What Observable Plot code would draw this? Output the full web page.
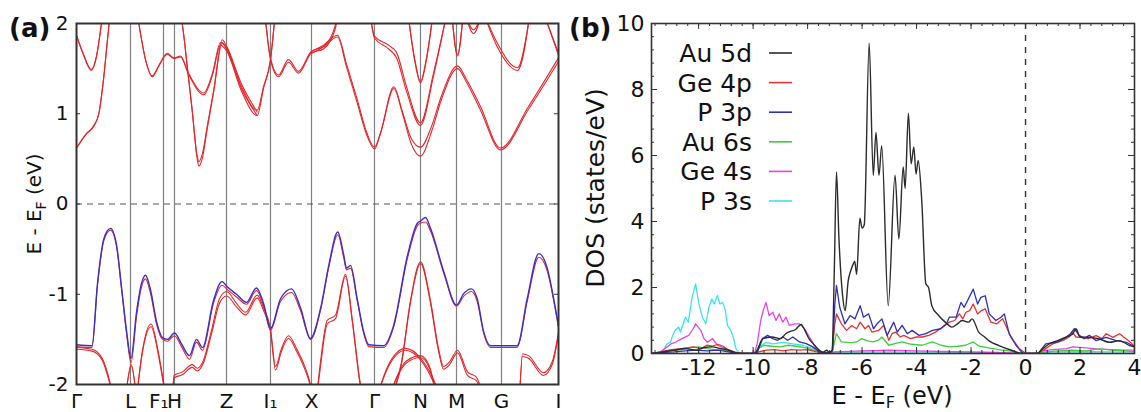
<!DOCTYPE html>
<html><head><meta charset="utf-8">
<script src="https://cdn.jsdelivr.net/npm/d3@7"></script>
<script src="https://cdn.jsdelivr.net/npm/@observablehq/plot@0.6"></script>
<style>
body{margin:0;background:#fff;font-family:"DejaVu Sans";}
#wrap{position:relative;width:1141px;height:412px;overflow:hidden;}
#wrap svg{position:absolute;top:0;}
</style>
</head><body><div id="wrap"></div>
<script>
// ---------- Panel (a): band structure ----------
const kTicks = [0, 0.54, 0.87, 0.98, 1.50, 1.94, 2.35, 2.98, 3.44, 3.80, 4.25, 4.82];
const kLabels = ["Γ", "L", "F₁", "H", "Z", "I₁", "X", "Γ", "N", "M", "G", "I"];
const eTicks = [-2, -1, 0, 1, 2];

// top valence band: [k, E (blue), E (red partner)]
const vbTop = [
[0,-1.56,-1.58],[0.155,-1.57,-1.59],[0.21,-0.88,-0.9],[0.275,-0.38,-0.4],[0.34,-0.27,-0.29],[0.40,-0.45,-0.47],[0.45,-0.92,-0.94],[0.50,-1.4,-1.43],[0.545,-1.71,-1.76],[0.60,-1.2,-1.25],[0.65,-0.88,-0.92],[0.69,-0.79,-0.83],[0.74,-0.95,-0.99],[0.80,-1.3,-1.33],[0.86,-1.48,-1.5],[0.91,-1.5,-1.52],[0.98,-1.43,-1.46],[1.05,-1.55,-1.58],[1.13,-1.68,-1.72],[1.2,-1.5,-1.53],[1.26,-1.59,-1.62],[1.37,-1.07,-1.1],[1.455,-0.86,-0.9],[1.51,-0.92,-0.95],[1.6,-1.0,-1.03],[1.70,-1.09,-1.11],[1.80,-0.93,-0.96],[1.87,-1.1,-1.12],[1.94,-1.38,-1.4],[2.04,-1.05,-1.08],[2.15,-0.94,-0.98],[2.24,-1.15,-1.18],[2.34,-1.49,-1.5],[2.44,-1.16,-1.18],[2.523,-0.68,-0.7],[2.613,-0.31,-0.34],[2.673,-0.57,-0.6],[2.70,-0.71,-0.73],[2.74,-0.68,-0.71],[2.807,-1.05,-1.07],[2.873,-1.42,-1.44],[2.923,-1.56,-1.58],[3.07,-1.57,-1.59],[3.17,-1.35,-1.37],[3.31,-0.57,-0.6],[3.41,-0.21,-0.24],[3.44,-0.19,-0.21],[3.49,-0.15,-0.2],[3.54,-0.27,-0.3],[3.673,-0.75,-0.77],[3.80,-1.12,-1.13],[3.873,-0.99,-1.02],[3.95,-0.94,-0.97],[4.007,-1.05,-1.08],[4.073,-1.42,-1.44],[4.14,-1.57,-1.59],[4.407,-1.57,-1.59],[4.507,-1.05,-1.08],[4.623,-0.55,-0.59],[4.707,-0.71,-0.74],[4.79,-1.16,-1.18],[4.82,-1.35,-1.37]
];

// lower valence bands (red pairs): [k, E1, E2]
const vbLower = [
 [[0.0,-1.59,-1.61],[0.155,-1.61,-1.63],[0.257,-1.71,-1.73],[0.34,-2.0,-2.02],[0.37,-2.15,-2.15]],
 [[0.49,-2.15,-2.15],[0.547,-1.78,-1.8],[0.6,-2.15,-2.15]],
 [[0.6,-2.15,-2.15],[0.66,-1.62,-1.64],[0.745,-1.33,-1.36],[0.82,-1.65,-1.68],[0.873,-1.99,-2.01],[0.9,-2.15,-2.15]],
 [[0.96,-2.15,-2.15],[0.975,-1.9,-1.93],[1.06,-1.86,-1.89],[1.157,-1.78,-1.81],[1.207,-1.82,-1.85],[1.27,-1.73,-1.76],[1.35,-1.4,-1.44],[1.43,-1.05,-1.1],[1.5,-0.97,-1.02],[1.6,-1.1,-1.14],[1.69,-1.2,-1.23],[1.807,-1.01,-1.04],[1.87,-1.15,-1.18],[1.94,-1.38,-1.41],[1.99,-1.8,-1.84],[2.05,-1.6,-1.63],[2.12,-1.46,-1.49],[2.2,-1.6,-1.63],[2.34,-2.0,-2.02],[2.37,-2.15,-2.15]],
 [[2.40,-2.15,-2.15],[2.44,-1.75,-1.8],[2.507,-1.29,-1.33],[2.59,-1.23,-1.27],[2.69,-0.78,-0.8],[2.76,-1.3,-1.32],[2.84,-2.0,-2.02],[2.87,-2.15,-2.15]],
 [[3.15,-2.15,-2.15],[3.25,-1.75,-1.77],[3.34,-1.07,-1.09],[3.44,-0.64,-0.66],[3.54,-1.07,-1.1],[3.62,-1.6,-1.63],[3.67,-1.8,-1.83],[3.73,-1.75,-1.78],[3.81,-1.62,-1.65],[3.91,-1.86,-1.9],[4.0,-1.92,-1.96],[4.07,-2.15,-2.15]],
 [[3.0,-2.15,-2.15],[3.12,-1.78,-1.8],[3.29,-1.6,-1.62],[3.45,-1.72,-1.74],[3.61,-2.05,-2.07],[3.64,-2.15,-2.15]],
 [[3.12,-2.15,-2.15],[3.3,-1.74,-1.76],[3.44,-1.68,-1.7],[3.53,-1.8,-1.82],[3.6,-2.15,-2.15]],
 [[4.43,-2.15,-2.15],[4.46,-1.66,-1.69],[4.52,-1.68,-1.71],[4.67,-1.87,-1.9],[4.76,-1.74,-1.77],[4.82,-1.42,-1.45]]
];

// conduction bands (red pairs): [k, E1, E2]
const cbBands = [
 [[0,0.62,0.62],[0.1,0.78,0.78],[0.173,0.86,0.87],[0.223,1.0,1.0],[0.273,1.41,1.41],[0.307,1.79,1.79],[0.34,2.15,2.15]],
 [[0,1.87,1.86],[0.07,1.66,1.65],[0.147,1.49,1.48],[0.2,1.64,1.63],[0.25,2.0,2.0],[0.27,2.15,2.15]],
 [[0.60,2.15,2.15],[0.623,2.0,2.0],[0.69,1.6,1.6],[0.757,1.42,1.41],[0.83,1.55,1.54],[0.907,1.67,1.66],[0.973,1.62,1.61],[1.04,1.64,1.63],[1.12,1.45,1.44],[1.273,1.23,1.21],[1.36,1.45,1.43],[1.44,1.79,1.76],[1.5,1.73,1.7],[1.65,1.3,1.25],[1.807,1.04,0.98],[1.87,1.3,1.28],[1.94,1.6,1.6],[1.99,2.15,2.15]],
 [[1.03,2.15,2.15],[1.057,2.0,2.0],[1.107,1.53,1.53],[1.157,1.04,1.03],[1.207,0.53,0.5],[1.223,0.47,0.42],[1.257,0.55,0.5],[1.307,0.86,0.83],[1.373,1.27,1.25],[1.457,1.82,1.79],[1.5,1.75,1.72],[1.65,1.33,1.28],[1.807,1.02,0.98]],
 [[1.88,2.15,2.15],[1.94,1.62,1.6],[2.02,1.43,1.41],[2.12,1.6,1.57],[2.22,1.47,1.45],[2.347,1.69,1.67],[2.473,1.75,1.72],[2.59,1.99,1.95],[2.62,2.15,2.15]],
 [[2.347,1.69,1.67],[2.47,1.76,1.74],[2.61,1.87,1.85],[2.7,1.55,1.52],[2.807,1.16,1.12],[2.9,0.8,0.77],[2.98,0.63,0.61],[3.04,0.79,0.78],[3.173,1.30,1.28],[3.26,1.02,1.0],[3.35,0.72,0.66],[3.44,0.63,0.53],[3.55,0.86,0.8],[3.65,1.2,1.16],[3.81,1.53,1.5],[3.9,1.38,1.35],[4.04,1.08,1.04],[4.24,0.62,0.6],[4.52,1.08,1.05],[4.82,1.62,1.58]],
 [[2.93,2.15,2.15],[2.98,1.86,1.84],[3.12,1.76,1.72],[3.2,1.68,1.62],[3.3,1.3,1.25],[3.44,0.9,0.87],[3.57,1.45,1.42],[3.71,2.15,2.15]],
 [[3.31,2.15,2.15],[3.38,1.62,1.6],[3.44,1.36,1.34],[3.50,1.62,1.6],[3.57,2.15,2.15]],
 [[3.75,2.15,2.15],[3.81,1.66,1.64],[3.87,2.15,2.15]],
 [[3.88,2.15,2.15],[3.97,1.93,1.89],[4.06,2.15,2.15]],
 [[4.06,2.15,2.15],[4.2,1.8,1.76],[4.41,1.51,1.48],[4.54,2.15,2.15]],
 [[4.66,2.15,2.15],[4.82,1.67,1.65]]
];

// ---------- Panel (b): DOS ----------
const dosNames = ["Au 5d", "Ge 4p", "P 3p", "Au 6s", "Ge 4s", "P 3s"];
const dosColors = ["#2b2b2b", "#e53232", "#3030b4", "#3fce3f", "#e446e4", "#3fe2ea"];
const dosXTicks = [-12, -10, -8, -6, -4, -2, 0, 2, 4];
const dosYTicks = [0, 2, 4, 6, 8, 10];

const au5d = [[-13.7,0],[-13.3,0.05],[-12.9,0.1],[-12.5,0.15],[-12.1,0.1],[-11.8,0.18],[-11.5,0.2],[-11.2,0.15],[-10.9,0.1],[-10.6,0.02],[-10.3,0],[-9.95,0],[-9.85,0.1],[-9.65,0.45],[-9.3,0.5],[-9.0,0.45],[-8.8,0.6],[-8.6,0.68],[-8.45,0.72],[-8.36,0.8],[-8.24,0.88],[-8.1,0.7],[-7.95,0.45],[-7.8,0.3],[-7.6,0.12],[-7.44,0.04],[-7.3,0.1],[-7.2,0.03],[-7.1,0.1],[-7.02,2.5],[-6.94,5.5],[-6.85,3.5],[-6.72,1.8],[-6.62,1.3],[-6.51,2.2],[-6.42,2.5],[-6.33,2.7],[-6.27,2.8],[-6.2,2.4],[-6.08,4.1],[-6.0,3.8],[-5.92,3.9],[-5.74,9.4],[-5.59,5.4],[-5.49,6.7],[-5.38,5.4],[-5.28,6.3],[-5.04,1.45],[-4.79,5.4],[-4.65,3.47],[-4.49,5.65],[-4.42,5.0],[-4.30,7.28],[-4.20,5.75],[-4.10,6.26],[-4.02,5.44],[-3.94,5.85],[-3.81,4.64],[-3.66,2.11],[-3.56,2.0],[-3.44,1.45],[-3.19,1.15],[-2.95,0.95],[-2.7,0.8],[-2.5,0.9],[-2.33,1.0],[-2.09,0.95],[-1.96,1.05],[-1.72,0.65],[-1.5,0.5],[-1.35,0.39],[-0.98,0.24],[-0.49,0.09],[-0.12,0],[0.45,0],[0.5,0.04],[0.87,0.29],[1.2,0.4],[1.5,0.5],[1.73,0.59],[1.85,0.75],[2.0,0.5],[2.34,0.49],[2.71,0.44],[3.08,0.34],[3.45,0.39],[3.82,0.24],[4.0,0.2]];
const ge4p = [[-13.7,0],[-13.4,0.05],[-13.0,0.12],[-12.6,0.15],[-12.2,0.2],[-11.9,0.15],[-11.7,0.25],[-11.5,0.22],[-11.3,0.28],[-11.1,0.22],[-10.9,0.1],[-10.7,0.04],[-10.4,0],[-9.95,0],[-9.8,0.05],[-9.5,0.1],[-9.2,0.12],[-8.9,0.08],[-8.6,0.12],[-8.3,0.1],[-8.0,0.12],[-7.7,0.06],[-7.4,0.02],[-7.1,0.05],[-7.0,0.9],[-6.94,1.2],[-6.76,0.9],[-6.57,0.7],[-6.38,0.85],[-6.2,0.75],[-6.07,0.95],[-5.89,0.75],[-5.76,0.85],[-5.64,0.65],[-5.39,0.7],[-5.21,0.85],[-5.02,0.4],[-4.9,0.6],[-4.77,0.65],[-4.6,0.5],[-4.47,0.55],[-4.22,0.45],[-4.0,0.5],[-3.79,0.5],[-3.55,0.55],[-3.3,0.65],[-3.05,0.8],[-2.8,0.95],[-2.6,1.0],[-2.43,1.2],[-2.3,1.05],[-2.19,1.25],[-2.05,1.3],[-1.92,1.5],[-1.76,1.2],[-1.62,1.3],[-1.48,1.35],[-1.27,0.95],[-1.05,0.9],[-0.84,1.05],[-0.7,0.8],[-0.54,0.5],[-0.23,0.15],[0,0],[0.45,0],[0.62,0.08],[0.99,0.29],[1.36,0.39],[1.6,0.5],[1.73,0.64],[1.85,0.5],[2.09,0.49],[2.3,0.45],[2.59,0.54],[2.8,0.45],[2.96,0.6],[3.21,0.49],[3.45,0.6],[3.6,0.5],[3.70,0.44],[3.9,0.3],[4.0,0.2]];
const p3p = [[-13.7,0],[-13.3,0.03],[-12.9,0.05],[-12.5,0.08],[-12.1,0.1],[-11.7,0.08],[-11.3,0.1],[-10.9,0.05],[-10.6,0],[-9.95,0],[-9.84,0.05],[-9.65,0.45],[-9.47,0.55],[-9.28,0.45],[-9.1,0.4],[-8.91,0.5],[-8.73,0.4],[-8.54,0.5],[-8.3,0.35],[-8.05,0.3],[-7.81,0.2],[-7.56,0.05],[-7.2,0.02],[-7.08,0.1],[-7.0,1.5],[-6.94,2.06],[-6.82,1.4],[-6.63,0.9],[-6.44,1.15],[-6.26,1.05],[-6.07,1.45],[-5.95,1.1],[-5.76,1.2],[-5.58,0.75],[-5.45,0.9],[-5.27,1.05],[-5.08,0.55],[-4.84,0.95],[-4.71,0.65],[-4.53,0.85],[-4.34,0.6],[-4.16,0.7],[-3.91,0.55],[-3.66,0.6],[-3.42,0.7],[-3.11,0.75],[-2.9,0.9],[-2.80,1.1],[-2.55,1.1],[-2.37,1.55],[-2.25,1.4],[-2.07,1.7],[-1.92,1.95],[-1.76,1.5],[-1.64,1.7],[-1.48,1.75],[-1.33,1.2],[-1.09,1.0],[-0.9,1.1],[-0.78,1.2],[-0.6,0.6],[-0.35,0.25],[-0.1,0],[0.45,0],[0.50,0.04],[0.74,0.29],[1.11,0.34],[1.3,0.4],[1.48,0.49],[1.65,0.6],[1.79,0.75],[1.97,0.55],[2.15,0.45],[2.34,0.55],[2.59,0.39],[2.96,0.49],[3.33,0.39],[3.70,0.34],[4.0,0.2]];
const au6s = [[-13.7,0],[-13.3,0.05],[-13.0,0.1],[-12.6,0.12],[-12.3,0.18],[-12.0,0.2],[-11.7,0.15],[-11.4,0.12],[-11.1,0.1],[-10.8,0.05],[-10.5,0],[-9.95,0],[-9.8,0.15],[-9.6,0.25],[-9.3,0.22],[-9.0,0.2],[-8.7,0.25],[-8.4,0.22],[-8.1,0.18],[-7.8,0.1],[-7.5,0.03],[-7.1,0.03],[-7.0,0.4],[-6.94,0.6],[-6.76,0.35],[-6.4,0.33],[-6.2,0.35],[-6.01,0.45],[-5.8,0.38],[-5.6,0.35],[-5.4,0.4],[-5.27,0.5],[-5.02,0.25],[-4.8,0.3],[-4.53,0.35],[-4.2,0.28],[-3.79,0.25],[-3.42,0.35],[-3.1,0.25],[-2.8,0.2],[-2.5,0.22],[-2.2,0.25],[-1.92,0.35],[-1.7,0.22],[-1.4,0.18],[-1.0,0.12],[-0.6,0.08],[-0.2,0.02],[0,0],[0.45,0],[0.7,0.05],[1.2,0.08],[1.7,0.1],[2.2,0.08],[2.7,0.14],[3.2,0.1],[3.7,0.08],[4.0,0.05]];
const ge4s = [[-13.7,0],[-13.4,0.05],[-13.23,0.15],[-13.0,0.3],[-12.86,0.34],[-12.61,0.45],[-12.36,0.55],[-12.2,0.75],[-12.11,0.9],[-11.92,0.7],[-11.8,0.45],[-11.68,0.34],[-11.49,0.45],[-11.31,0.25],[-11.0,0.15],[-10.63,0.03],[-10.4,0],[-9.95,0],[-9.85,0.3],[-9.72,1.0],[-9.63,1.3],[-9.53,1.55],[-9.41,1.15],[-9.28,1.25],[-9.16,1.0],[-9.04,1.2],[-8.91,0.95],[-8.79,1.1],[-8.67,0.85],[-8.48,0.9],[-8.30,0.9],[-8.11,0.75],[-7.93,0.5],[-7.75,0.25],[-7.56,0.08],[-7.4,0],[-7.0,0.05],[-6.0,0.08],[-5.0,0.1],[-4.0,0.08],[-3.0,0.06],[-2.0,0.05],[-1.0,0.03],[0,0],[0.45,0],[0.6,0.08],[1.0,0.12],[1.5,0.15],[1.73,0.2],[2.1,0.18],[2.6,0.14],[3.1,0.12],[3.6,0.1],[4.0,0.1]];
const p3s = [[-13.7,0],[-13.45,0],[-13.34,0.04],[-13.16,0.29],[-13.04,0.34],[-12.95,0.55],[-12.86,0.7],[-12.73,0.8],[-12.67,0.65],[-12.48,1.1],[-12.38,0.95],[-12.24,1.7],[-12.11,2.11],[-11.99,1.5],[-11.86,1.1],[-11.74,0.9],[-11.62,1.4],[-11.52,1.65],[-11.43,1.5],[-11.31,1.76],[-11.22,1.5],[-11.12,1.55],[-11.03,1.35],[-10.94,0.85],[-10.82,0.7],[-10.73,0.5],[-10.63,0.15],[-10.5,0],[-9.95,0],[-9.78,0.2],[-9.53,0.34],[-9.28,0.29],[-8.91,0.34],[-8.54,0.29],[-8.17,0.25],[-7.81,0.15],[-7.56,0.05],[-7.4,0],[-7.0,0.04],[-5.0,0.05],[-3.0,0.04],[-1.0,0.02],[0,0],[0.45,0],[1.0,0.05],[2.0,0.06],[3.0,0.05],[4.0,0.05]];
const dosSeries = [au5d, ge4p, p3p, au6s, ge4s, p3s];

// ---------- build ----------
const FONT = "DejaVu Sans";
function pairRows(bands, prefix) {
  const out = [];
  bands.forEach((b, i) => b.forEach(([k, e1, e2]) => {
    out.push({id: prefix + i + "a", k, E: e1});
    out.push({id: prefix + i + "b", k, E: e2 ?? e1});
  }));
  return out;
}
const redRows = pairRows([...vbLower, ...cbBands], "r").concat(vbTop.map(([k, , e2]) => ({id: "top", k, E: e2})));
const blueRows = vbTop.map(([k, e1]) => ({k, E: e1}));
const labelOf = new Map(kTicks.map((k, i) => [k, kLabels[i]]));
const axisK = kTicks.filter((k, i) => i !== 2);

const AW = 580, AH = 412, aML = 76, aMR = 22, aMT = 23, aMB = 28;
const aFW = AW - aML - aMR;
const A = Plot.plot({
  width: AW, height: AH, marginLeft: aML, marginRight: aMR, marginTop: aMT, marginBottom: aMB,
  style: {background: "transparent", fontFamily: FONT, fontSize: "20px", color: "#111"},
  x: {domain: [0, 4.82], ticks: axisK, tickFormat: d => labelOf.get(d), tickSize: 0, tickPadding: 9, label: null},
  y: {domain: [-2, 2], ticks: eTicks, tickFormat: d => String(d), tickSize: 0, tickPadding: 8, label: null},
  marks: [
    Plot.ruleX(kTicks.slice(1, -1), {stroke: "#808080", strokeWidth: 1.2}),
    Plot.ruleY([0], {stroke: "#555", strokeWidth: 1.2, strokeDasharray: "6,5"}),
    Plot.line(redRows, {x: "k", y: "E", z: "id", stroke: "#e4262b", strokeWidth: 1.1, curve: "monotone-x", clip: true}),
    Plot.line(blueRows, {x: "k", y: "E", stroke: "#3b2fc9", strokeWidth: 1.4, curve: "monotone-x", clip: true}),
    Plot.tickY(eTicks, {y: d => d, insetRight: aFW - 4, stroke: "#333"}),
    Plot.tickY(eTicks, {y: d => d, insetLeft: aFW - 4, stroke: "#333"}),
    Plot.frame({stroke: "#333", strokeWidth: 2}),
    Plot.text([{k: kTicks[2], t: kLabels[2]}], {x: "k", text: "t", frameAnchor: "bottom", lineAnchor: "top", dy: 9, textAnchor: "end", dx: 5, fontSize: 20, fill: "#111"})
  ]
});

const BL = 560, BW = 581, BH = 412, bML = 91, bMR = 7, bMT = 23, bMB = 59;
const bFW = BW - bML - bMR, bFH = BH - bMT - bMB;
const xMinor = d3.range(-34, 11).map(i => i * 0.4);
const yMinor = d3.range(0, 26).map(i => i * 0.4);
const dosRows = [];
dosSeries.forEach((s, i) => s.forEach(([E, v]) => dosRows.push({s: dosNames[i], E, v})));
const dosOf = name => dosRows.filter(d => d.s === name);
const B = Plot.plot({
  width: BW, height: BH, marginLeft: bML, marginRight: bMR, marginTop: bMT, marginBottom: bMB,
  style: {background: "transparent", fontFamily: FONT, fontSize: "22px", color: "#111"},
  x: {domain: [-13.73, 4], ticks: dosXTicks, tickFormat: d => String(d), tickSize: 0, tickPadding: 6, label: null},
  y: {domain: [0, 10], ticks: dosYTicks, tickFormat: d => String(d), tickSize: 0, tickPadding: 7, label: null},
  color: {domain: dosNames, range: dosColors},
  marks: [
    Plot.ruleX([0], {stroke: "#333", strokeWidth: 1.4, strokeDasharray: "6,6"}),
    ...["P 3s", "Ge 4s", "Au 6s", "Ge 4p", "P 3p"].map(n =>
      Plot.line(dosOf(n), {x: "E", y: "v", stroke: "s", strokeWidth: 1.3, clip: true})),
    Plot.line(dosOf("Au 5d"), {x: "E", y: "v", stroke: "s", strokeWidth: 1.4, curve: "monotone-x", clip: true}),
    Plot.tickX(xMinor, {x: d => d, insetTop: bFH - 3, stroke: "#333"}),
    Plot.tickX(xMinor, {x: d => d, insetBottom: bFH - 3, stroke: "#333"}),
    Plot.tickX(dosXTicks, {x: d => d, insetTop: bFH - 6, stroke: "#333"}),
    Plot.tickX(dosXTicks, {x: d => d, insetBottom: bFH - 6, stroke: "#333"}),
    Plot.tickY(yMinor, {y: d => d, insetRight: bFW - 3, stroke: "#333"}),
    Plot.tickY(yMinor, {y: d => d, insetLeft: bFW - 3, stroke: "#333"}),
    Plot.tickY(dosYTicks, {y: d => d, insetRight: bFW - 6, stroke: "#333"}),
    Plot.tickY(dosYTicks, {y: d => d, insetLeft: bFW - 6, stroke: "#333"}),
    Plot.frame({stroke: "#333", strokeWidth: 1.6})
  ]
});

// extra text: panel letters, axis titles with subscripts, legend
const sa = d3.select(A);
sa.append("text").attr("x", 9).attr("y", 37).attr("text-anchor", "start").attr("font-size", 26).attr("font-weight", "bold").attr("fill", "#111").text("(a)");
const ya = sa.append("text").attr("transform", "translate(34,204) rotate(-90)").attr("text-anchor", "middle").attr("dy", "0.35em").attr("font-size", 20).attr("fill", "#111");
ya.append("tspan").text("E - E");
ya.append("tspan").attr("font-size", 14).attr("dy", 5).text("F");
ya.append("tspan").attr("dy", -5).text(" (eV)");

const sb = d3.select(B);
sb.append("text").attr("x", 9).attr("y", 37).attr("text-anchor", "start").attr("font-size", 26).attr("font-weight", "bold").attr("fill", "#111").text("(b)");
sb.append("text").attr("transform", "translate(35,188) rotate(-90)").attr("text-anchor", "middle").attr("dy", "0.35em").attr("font-size", 25).attr("fill", "#111").text("DOS (states/eV)");
const xb = sb.append("text").attr("x", 332).attr("y", 404).attr("text-anchor", "middle").attr("font-size", 24).attr("fill", "#111");
xb.append("tspan").text("E - E");
xb.append("tspan").attr("font-size", 16).attr("dy", 4).text("F");
xb.append("tspan").attr("dy", -4).text(" (eV)");
dosNames.forEach((n, i) => {
  const yb = 62 + i * 29.6;
  sb.append("text").attr("x", 192).attr("y", yb).attr("text-anchor", "end").attr("font-size", 25).attr("fill", "#111").text(n);
  sb.append("line").attr("x1", 209).attr("x2", 232).attr("y1", yb - 9).attr("y2", yb - 9).attr("stroke", dosColors[i]).attr("stroke-width", 1.6);
});

const wrap = document.getElementById("wrap");
A.style.left = "0px";
B.style.left = BL + "px";
wrap.appendChild(A);
wrap.appendChild(B);
</script></body></html>
